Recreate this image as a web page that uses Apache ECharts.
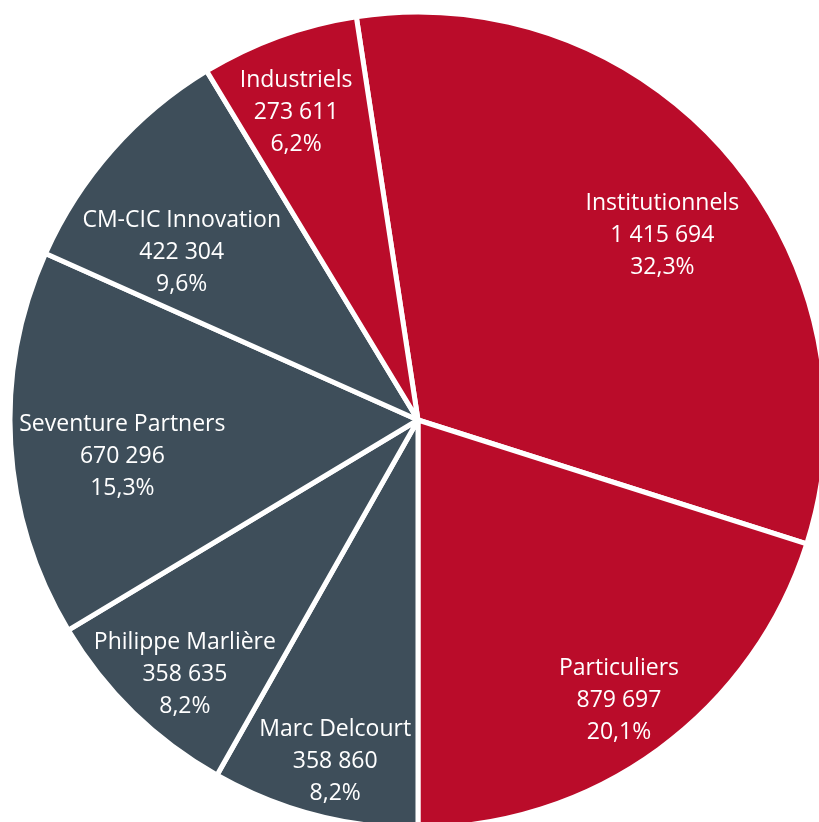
<!DOCTYPE html>
<html>
<head>
<meta charset="utf-8">
<script src="https://cdn.jsdelivr.net/npm/echarts@6/dist/echarts.min.js"></script>
<style>
  html, body { margin: 0; padding: 0; background: #fff; }
  #main { width: 819px; height: 822px; }
</style>
</head>
<body>
<div id="main"></div>
<script>
// data, in clockwise order from the top
var names = ['Institutionnels', 'Particuliers', 'Marc Delcourt', 'Philippe Marlière',
  'Seventure Partners', 'CM-CIC Innovation', 'Industriels'];
var values = [1415694, 879697, 358860, 358635, 670296, 422304, 273611];
var groups = ['red', 'red', 'slate', 'slate', 'slate', 'slate', 'red'];

// where the labels sit: fraction of radius, and angle nudge in degrees
var labelRadius = [0.75, 0.845, 0.86, 0.845, 0.73, 0.71, 0.81];
var labelTurn = [3.5, 0.5, -1.1, -1.7, -3.5, -6.1, -1.7];

var colors = { red: '#BA0C2A', slate: '#3E4E5A' };
var cx = 418, cy = 420, R = 408;

var total = values.reduce(function (a, b) { return a + b; }, 0);

function fmtNum(v) {
  return String(v).replace(/\B(?=(\d{3})+(?!\d))/g, ' ');
}

var chartDom = document.getElementById('main');
var myChart = echarts.init(chartDom);
var option;

option = {
  animation: false,
  series: [
    {
      type: 'pie',
      center: [cx, cy],
      radius: [0, R],
      startAngle: 98.7,
      clockwise: true,
      avoidLabelOverlap: false,
      itemStyle: {
        borderColor: '#ffffff',
        borderWidth: 5
      },
      label: {
        show: true,
        position: 'inside',
        color: '#ffffff',
        fontFamily: '"Open Sans", sans-serif',
        fontSize: 23,
        lineHeight: 32,
        align: 'center',
        formatter: function (p) {
          var pct = (p.value / total * 100).toFixed(1).replace('.', ',');
          return p.name + '\n' + fmtNum(p.value) + '\n' + pct + '%';
        }
      },
      labelLine: { show: false },
      labelLayout: function (params) {
        var r = params.labelRect;
        var lx = r.x + r.width / 2;
        var ly = r.y + r.height / 2;
        var a = Math.atan2(lx - cx, -(ly - cy)) + labelTurn[params.dataIndex] * Math.PI / 180;
        var d = R * labelRadius[params.dataIndex];
        var nx = cx + d * Math.sin(a);
        var ny = cy - d * Math.cos(a);
        return { dx: nx - lx, dy: ny - ly };
      },
      data: names.map(function (n, i) {
        return { name: n, value: values[i], itemStyle: { color: colors[groups[i]] } };
      })
    }
  ]
};

option && myChart.setOption(option);
</script>
</body>
</html>
